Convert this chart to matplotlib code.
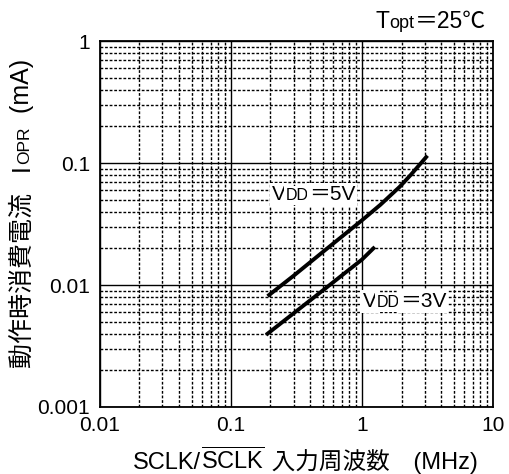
import matplotlib
matplotlib.use("Agg")
import matplotlib.pyplot as plt
from matplotlib.ticker import LogLocator, NullFormatter

plt.rcParams['font.family'] = ['Liberation Sans', 'Noto Sans CJK JP', 'DejaVu Sans']
plt.rcParams['mathtext.fontset'] = 'custom'
plt.rcParams['mathtext.rm'] = 'Liberation Sans'
plt.rcParams['mathtext.it'] = 'Liberation Sans:italic'
plt.rcParams['mathtext.bf'] = 'Liberation Sans:bold'

# data
freq_5v = [0.19, 0.3, 0.5, 1.0, 1.38, 1.94, 2.34, 2.84, 3.15]
iopr_5v = [0.0081, 0.0119, 0.0186, 0.0340, 0.0455, 0.0640, 0.0795, 0.101, 0.115]
freq_3v = [0.185, 0.5, 1.0, 1.25]
iopr_3v = [0.0039, 0.0090, 0.0162, 0.0205]

x_ticks = [0.01, 0.1, 1, 10]
x_labels = ['0.01', '0.1', '1', '10']
y_ticks = [0.001, 0.01, 0.1, 1]
y_labels = ['0.001', '0.01', '0.1', '1']

fig = plt.figure(figsize=(5.1, 4.74), dpi=100)
ax = fig.add_axes([0.196, 0.1414, 0.771, 0.772])

ax.set_xscale('log')
ax.set_yscale('log')
ax.set_xlim(0.01, 10)
ax.set_ylim(0.001, 1)

ax.set_xticks(x_ticks)
ax.set_xticklabels(x_labels)
ax.set_yticks(y_ticks)
ax.set_yticklabels(y_labels)
sub = [2, 3, 4, 5, 6, 7, 8, 9]
ax.xaxis.set_minor_locator(LogLocator(base=10, subs=sub))
ax.yaxis.set_minor_locator(LogLocator(base=10, subs=sub))
ax.xaxis.set_minor_formatter(NullFormatter())
ax.yaxis.set_minor_formatter(NullFormatter())
ax.tick_params(which='both', length=0, labelsize=15)
ax.tick_params(axis='x', pad=6.5)
ax.tick_params(axis='y', pad=7)

ax.grid(which='major', color='black', lw=1.0, ls='-')
ax.grid(which='minor', color='black', lw=1.0, ls=(0, (2.0, 1.3)))
ax.set_axisbelow(True)
for s in ax.spines.values():
    s.set_linewidth(1.3)

ax.plot(freq_5v, iopr_5v, color='black', lw=2.8, solid_capstyle='butt', zorder=5)
ax.plot(freq_3v, iopr_3v, color='black', lw=2.8, solid_capstyle='butt', zorder=5)


def chain_h(x, y, pieces, coords, box=None):
    """write text pieces one after another on a common baseline"""
    prev = None
    for txt, size in pieces:
        kw = dict(fontsize=size, ha='left', va='baseline',
                  annotation_clip=False, zorder=6)
        if box:
            kw['bbox'] = box
        if prev is None:
            prev = ax.annotate(txt, xy=(x, y), xycoords=coords, **kw)
        else:
            prev = ax.annotate(txt, xy=(1, y), xycoords=(prev, coords), **kw)
    return prev


def chain_v(x, y, pieces):
    """same thing, rotated 90 degrees, going upwards"""
    prev = None
    for txt, size in pieces:
        kw = dict(fontsize=size, ha='left', va='baseline', rotation=90,
                  rotation_mode='anchor', annotation_clip=False)
        if prev is None:
            prev = ax.annotate(txt, xy=(x, y), xycoords='figure fraction', **kw)
        else:
            prev = ax.annotate(txt, xy=(x, 1), xycoords=('figure fraction', prev), **kw)


white = dict(fc='white', ec='none', pad=1.5)
chain_h(0.2056, 0.0497, [('V', 15), ('DD', 11.5), ('＝5V', 15)], 'data', white)
chain_h(1.018, 0.00656, [('V', 15), ('DD', 11.5), ('＝3V', 15)], 'data', white)

chain_h(0.737, 0.941, [('T', 16.5), ('opt', 13), ('＝25℃', 16.5)], 'figure fraction')

chain_h(0.2608, 0.0105, [('SCLK/', 17), (r'$\overline{\mathrm{SCLK}}$', 17),
                         (' 入力周波数　(MHz)', 17)], 'figure fraction')

chain_v(0.0569, 0.2257, [('動作時消費電流', 18), ('　', 15), ('I', 18),
                         ('OPR', 12.5), ('  (mA)', 18)])

fig.savefig('out.png', dpi=100)
